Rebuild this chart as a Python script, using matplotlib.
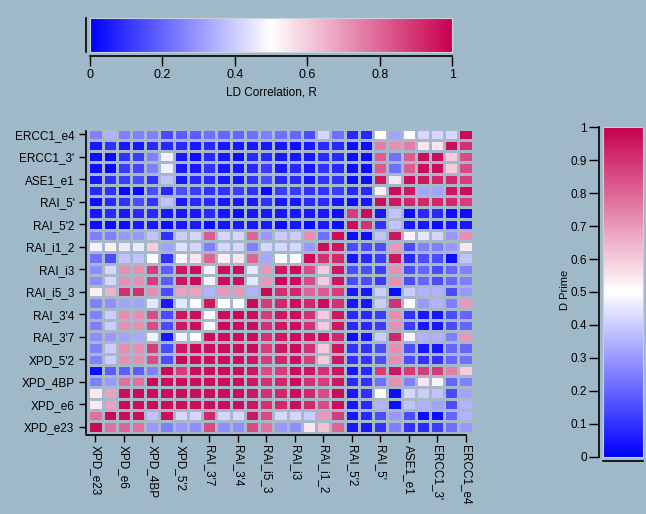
import numpy as np
import matplotlib
matplotlib.use("Agg")
import matplotlib.pyplot as plt
from matplotlib.colors import LinearSegmentedColormap, Normalize
from matplotlib.cm import ScalarMappable

plt.rcParams['font.family'] = ['Liberation Sans', 'DejaVu Sans']

# SNP names along the x axis (left to right); every second SNP is labelled
x_labels = ["XPD_e23", "XPD_e6", "XPD_4BP", "XPD_5'2", "RAI_3'7", "RAI_3'4", "RAI_i5_3",
            "RAI_i3", "RAI_i1_2", "RAI_5'2", "RAI_5'", "ASE1_e1", "ERCC1_3'", "ERCC1_e4"]
y_labels = x_labels[::-1]  # rows run top-down from ERCC1_e4

cbar_top_ticks = [0, 0.2, 0.4, 0.6, 0.8, 1]
cbar_top_ticklabels = ["0", "0.2", "0.4", "0.6", "0.8", "1"]
cbar_right_ticks = [0, 0.1, 0.2, 0.3, 0.4, 0.5, 0.6, 0.7, 0.8, 0.9, 1]
cbar_right_ticklabels = ["0", "0.1", "0.2", "0.3", "0.4", "0.5", "0.6", "0.7", "0.8", "0.9", "1"]

# pairwise LD values, row 0 = top row (ERCC1_e4), column 0 = XPD_e23
ld_rows = [
    [0.25, 0.35, 0.25, 0.25, 0.25, 0.15, 0.18, 0.18, 0.22, 0.20, 0.20, 0.22, 0.25, 0.22, 0.20, 0.15, 0.42, 0.22, 0.08, 0.08, 0.50, 0.32, 0.50, 0.42, 0.42, 0.42, 0.98],
    [0.05, 0.10, 0.05, 0.05, 0.08, 0.08, 0.08, 0.05, 0.08, 0.05, 0.05, 0.05, 0.05, 0.05, 0.03, 0.05, 0.08, 0.08, 0.03, 0.03, 0.75, 0.72, 0.75, 0.55, 0.55, 0.97, 0.90],
    [0.03, 0.02, 0.10, 0.12, 0.25, 0.47, 0.05, 0.03, 0.08, 0.05, 0.03, 0.08, 0.08, 0.05, 0.05, 0.05, 0.08, 0.08, 0.03, 0.03, 0.82, 0.22, 0.82, 0.97, 0.97, 0.60, 0.85],
    [0.03, 0.02, 0.12, 0.14, 0.25, 0.47, 0.05, 0.05, 0.10, 0.05, 0.05, 0.08, 0.12, 0.05, 0.08, 0.05, 0.10, 0.08, 0.03, 0.03, 0.82, 0.22, 0.82, 0.97, 0.97, 0.60, 0.85],
    [0.05, 0.10, 0.12, 0.15, 0.10, 0.38, 0.05, 0.08, 0.08, 0.05, 0.05, 0.10, 0.15, 0.08, 0.08, 0.05, 0.10, 0.10, 0.03, 0.03, 0.95, 0.55, 0.97, 0.95, 0.92, 0.92, 0.88],
    [0.08, 0.10, 0.02, 0.02, 0.15, 0.08, 0.15, 0.12, 0.10, 0.10, 0.12, 0.10, 0.02, 0.12, 0.12, 0.10, 0.10, 0.12, 0.08, 0.08, 0.53, 0.97, 0.95, 0.32, 0.32, 0.95, 0.97],
    [0.03, 0.08, 0.10, 0.15, 0.10, 0.38, 0.05, 0.08, 0.08, 0.05, 0.05, 0.05, 0.10, 0.05, 0.05, 0.08, 0.08, 0.05, 0.03, 0.05, 0.97, 0.95, 0.92, 0.92, 0.92, 0.92, 0.88],
    [0.05, 0.08, 0.05, 0.08, 0.08, 0.05, 0.05, 0.05, 0.08, 0.05, 0.03, 0.05, 0.05, 0.05, 0.05, 0.05, 0.05, 0.03, 0.88, 0.97, 0.05, 0.38, 0.03, 0.08, 0.08, 0.03, 0.03],
    [0.03, 0.03, 0.03, 0.05, 0.05, 0.03, 0.05, 0.05, 0.03, 0.05, 0.05, 0.05, 0.05, 0.03, 0.05, 0.03, 0.05, 0.03, 0.97, 0.90, 0.10, 0.38, 0.05, 0.05, 0.03, 0.05, 0.05],
    [0.25, 0.25, 0.30, 0.30, 0.38, 0.10, 0.40, 0.42, 0.82, 0.42, 0.42, 0.80, 0.30, 0.40, 0.40, 0.72, 0.22, 0.97, 0.03, 0.03, 0.38, 0.95, 0.52, 0.45, 0.42, 0.30, 0.72],
    [0.48, 0.53, 0.46, 0.46, 0.60, 0.32, 0.44, 0.42, 0.25, 0.42, 0.42, 0.25, 0.42, 0.42, 0.42, 0.30, 0.97, 0.95, 0.15, 0.15, 0.15, 0.70, 0.15, 0.25, 0.25, 0.30, 0.55],
    [0.22, 0.15, 0.38, 0.38, 0.50, 0.10, 0.52, 0.55, 0.80, 0.53, 0.55, 0.80, 0.33, 0.50, 0.50, 0.97, 0.90, 0.92, 0.05, 0.08, 0.12, 0.95, 0.08, 0.15, 0.15, 0.03, 0.38],
    [0.28, 0.42, 0.72, 0.72, 0.88, 0.18, 0.95, 0.97, 0.48, 0.97, 0.97, 0.45, 0.70, 0.95, 0.98, 0.85, 0.60, 0.95, 0.15, 0.15, 0.12, 0.72, 0.15, 0.20, 0.15, 0.20, 0.25],
    [0.28, 0.42, 0.72, 0.72, 0.88, 0.18, 0.95, 0.97, 0.48, 0.97, 0.97, 0.45, 0.70, 0.98, 0.97, 0.85, 0.60, 0.95, 0.15, 0.15, 0.12, 0.72, 0.15, 0.20, 0.15, 0.20, 0.25],
    [0.53, 0.65, 0.90, 0.90, 0.72, 0.15, 0.68, 0.68, 0.35, 0.70, 0.70, 0.35, 0.98, 0.90, 0.92, 0.80, 0.82, 0.88, 0.05, 0.05, 0.40, 0.02, 0.40, 0.35, 0.35, 0.15, 0.30],
    [0.25, 0.28, 0.32, 0.32, 0.45, 0.05, 0.45, 0.50, 0.95, 0.50, 0.50, 0.98, 0.88, 0.92, 0.97, 0.92, 0.97, 0.90, 0.05, 0.05, 0.40, 0.90, 0.50, 0.30, 0.35, 0.25, 0.70],
    [0.25, 0.40, 0.72, 0.72, 0.85, 0.15, 0.95, 0.97, 0.50, 0.97, 0.98, 0.97, 0.88, 0.95, 0.97, 0.90, 0.60, 0.95, 0.08, 0.08, 0.12, 0.72, 0.10, 0.05, 0.05, 0.15, 0.20],
    [0.25, 0.40, 0.72, 0.72, 0.85, 0.15, 0.95, 0.97, 0.50, 0.98, 0.97, 0.97, 0.90, 0.95, 0.97, 0.90, 0.60, 0.95, 0.08, 0.08, 0.12, 0.72, 0.12, 0.05, 0.05, 0.15, 0.20],
    [0.28, 0.30, 0.32, 0.33, 0.47, 0.05, 0.48, 0.50, 0.98, 0.97, 0.97, 0.97, 0.90, 0.95, 0.97, 0.95, 0.97, 0.92, 0.03, 0.05, 0.40, 0.92, 0.52, 0.35, 0.35, 0.25, 0.70],
    [0.25, 0.40, 0.72, 0.72, 0.88, 0.15, 0.95, 0.98, 0.97, 0.97, 0.97, 0.97, 0.88, 0.95, 0.97, 0.90, 0.60, 0.95, 0.10, 0.10, 0.15, 0.72, 0.15, 0.05, 0.05, 0.20, 0.20],
    [0.25, 0.40, 0.72, 0.72, 0.85, 0.15, 0.98, 0.97, 0.97, 0.97, 0.97, 0.95, 0.88, 0.92, 0.97, 0.88, 0.60, 0.95, 0.10, 0.10, 0.15, 0.72, 0.15, 0.10, 0.10, 0.20, 0.22],
    [0.03, 0.18, 0.18, 0.18, 0.25, 0.98, 0.88, 0.97, 0.97, 0.97, 0.97, 0.95, 0.85, 0.88, 0.97, 0.95, 0.90, 0.95, 0.05, 0.08, 0.88, 0.95, 0.88, 0.88, 0.88, 0.75, 0.60],
    [0.25, 0.30, 0.78, 0.78, 0.98, 0.97, 0.97, 0.97, 0.97, 0.97, 0.97, 0.95, 0.90, 0.92, 0.97, 0.90, 0.88, 0.95, 0.08, 0.10, 0.22, 0.72, 0.25, 0.55, 0.52, 0.20, 0.25],
    [0.54, 0.68, 0.97, 0.98, 0.97, 0.97, 0.97, 0.97, 0.97, 0.97, 0.97, 0.95, 0.90, 0.92, 0.97, 0.92, 0.85, 0.97, 0.05, 0.10, 0.50, 0.03, 0.42, 0.40, 0.38, 0.15, 0.32],
    [0.54, 0.68, 0.98, 0.97, 0.97, 0.97, 0.97, 0.97, 0.97, 0.97, 0.97, 0.95, 0.90, 0.92, 0.97, 0.92, 0.85, 0.97, 0.05, 0.08, 0.35, 0.03, 0.38, 0.35, 0.32, 0.15, 0.35],
    [0.78, 0.98, 0.97, 0.97, 0.38, 0.97, 0.42, 0.42, 0.92, 0.42, 0.42, 0.95, 0.85, 0.42, 0.42, 0.40, 0.70, 0.88, 0.05, 0.08, 0.15, 0.30, 0.15, 0.03, 0.03, 0.20, 0.35],
    [0.98, 0.78, 0.80, 0.78, 0.30, 0.25, 0.30, 0.28, 0.85, 0.28, 0.28, 0.85, 0.78, 0.30, 0.28, 0.55, 0.62, 0.80, 0.05, 0.05, 0.10, 0.25, 0.10, 0.08, 0.12, 0.22, 0.30],
]

bg = '#A0B9C8'
grid_col = '#A6B8CA'
cmap = LinearSegmentedColormap.from_list('ld', ['#0000FF', '#FFFFFF', '#C80050'])
norm = Normalize(0, 1)

W, H = 646, 514
fig = plt.figure(figsize=(W / 100, H / 100), dpi=100, facecolor=bg)


def px_axes(x0, y0, x1, y1):
    # axes from pixel box (top-left origin)
    return fig.add_axes([x0 / W, 1 - y1 / H, (x1 - x0) / W, (y1 - y0) / H])


# ---- heatmap ----
data = np.array(ld_rows)
n = data.shape[0]
ax = px_axes(88.3, 128.7, 472.7, 432.5)
ax.set_facecolor(bg)
ax.pcolormesh(np.arange(n + 1), np.arange(n + 1), data, cmap=cmap, norm=norm,
              edgecolors=grid_col, linewidth=0.9)
ax.set_xlim(0, n)
ax.set_ylim(n, 0)

ticks = np.arange(0, n, 2) + 0.5
ax.set_xticks(ticks)
ax.set_xticklabels(x_labels)
ax.set_yticks(ticks)
ax.set_yticklabels(y_labels)
ax.tick_params(axis='both', length=5, width=1, color='black', labelsize=8.5)
ax.tick_params(axis='x', pad=2, labelrotation=270)
ax.tick_params(axis='y', pad=3)
for lbl in ax.get_xticklabels():
    lbl.set_ha('center')
    lbl.set_va('top')
for s in ['top', 'right']:
    ax.spines[s].set_visible(False)
for s in ['left', 'bottom']:
    ax.spines[s].set_position(('outward', 2))
    ax.spines[s].set_linewidth(1.2)
    ax.spines[s].set_zorder(5)
ax.spines['left'].set_bounds(0.2, n)
ax.spines['bottom'].set_bounds(-0.15, n - 0.5)

# ---- top colour bar (LD R) ----
sm = ScalarMappable(norm=norm, cmap=cmap)
cax1 = px_axes(90, 18, 452.3, 52)
cb1 = fig.colorbar(sm, cax=cax1, orientation='horizontal')
cb1.outline.set_edgecolor('#C8D2DC')
cb1.outline.set_linewidth(0.8)
cb1.set_ticks(cbar_top_ticks)
cb1.set_ticklabels(cbar_top_ticklabels)
cax1.tick_params(axis='x', length=7, width=1, labelsize=9, pad=2, bottom=True)
cax1.set_xlabel('LD Correlation, R', fontsize=8.5, labelpad=4)
for s in ['left', 'bottom']:
    cax1.spines[s].set_visible(True)
    cax1.spines[s].set_position(('outward', 3))
    cax1.spines[s].set_linewidth(1.2)

# ---- right colour bar (D') ----
cax2 = px_axes(603.3, 127.3, 643.3, 456.7)
cb2 = fig.colorbar(sm, cax=cax2, orientation='vertical', ticklocation='left')
cb2.outline.set_edgecolor('#C8D2DC')
cb2.outline.set_linewidth(0.8)
cb2.set_ticks(cbar_right_ticks)
cb2.set_ticklabels(cbar_right_ticklabels)
cax2.tick_params(axis='y', length=7, width=1, labelsize=8.5, pad=2)
for s in ['left', 'bottom']:
    cax2.spines[s].set_visible(True)
    cax2.spines[s].set_position(('outward', 3))
    cax2.spines[s].set_linewidth(1.2)
fig.text(565 / W, 1 - 290 / H, 'D Prime', rotation=90, fontsize=8,
         ha='center', va='center')

fig.savefig('out.png', dpi=100, facecolor=bg)
